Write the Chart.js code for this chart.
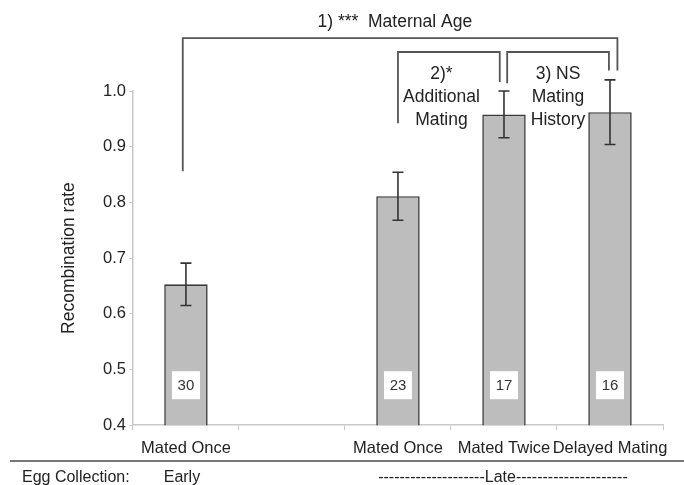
<!DOCTYPE html>
<html>
<head>
<meta charset="utf-8">
<script src="https://cdn.jsdelivr.net/npm/chart.js@4.4.1/dist/chart.umd.min.js"></script>
<style>
    html, body { margin: 0; padding: 0; background: #fff; }
    #wrap { width: 684px; height: 485px; position: relative; }
</style>
</head>
<body>
<div id="wrap"><canvas id="recombChart"></canvas></div>
<script>
// Categories (second slot is an empty gap between early and late groups)
const categories = ['Mated Once', '', 'Mated Once', 'Mated Twice', 'Delayed Mating'];
const recombRates = [0.653, null, 0.811, 0.958, 0.962];
const recombErrors = [0.038, null, 0.043, 0.042, 0.058];
const sampleSizes = [30, null, 23, 17, 16];
const yTicks = [0.4, 0.5, 0.6, 0.7, 0.8, 0.9, 1.0];

// Comparison brackets: category index span and y values of the bracket ends
const brackets = [
    { from: -0.03, to: 4.07, top: 1.095, leftEnd: 0.856, rightEnd: 1.037 },
    { from: 2.0, to: 2.96, top: 1.07, leftEnd: 0.942, rightEnd: 1.016 },
    { from: 3.03, to: 3.99, top: 1.07, leftEnd: 1.014, rightEnd: 1.037 }
];
const bracketLabels = [
    { at: 1.97, value: 1.1235, lines: ['1) ***  Maternal Age'] },
    { at: 2.41, value: 1.030, lines: ['2)*', 'Additional', 'Mating'] },
    { at: 3.51, value: 1.030, lines: ['3) NS', 'Mating', 'History'] }
];

const FONT = '"Liberation Sans", Arial, sans-serif';
Chart.defaults.font.family = FONT;
Chart.defaults.color = '#222';

const annotationPlugin = {
    id: 'annotations',
    afterDatasetsDraw(chart) {
        const ctx = chart.ctx;
        const x = chart.scales.x;
        const y = chart.scales.y;
        const meta = chart.getDatasetMeta(0);

        ctx.save();
        // Error bars
        ctx.strokeStyle = '#333';
        ctx.lineWidth = 1.6;
        recombRates.forEach((v, i) => {
            if (v === null) return;
            const cx = x.getPixelForValue(i);
            const yHi = y.getPixelForValue(v + recombErrors[i]);
            const yLo = y.getPixelForValue(v - recombErrors[i]);
            ctx.beginPath();
            ctx.moveTo(cx, yHi); ctx.lineTo(cx, yLo);
            ctx.moveTo(cx - 5.5, yHi); ctx.lineTo(cx + 5.5, yHi);
            ctx.moveTo(cx - 5.5, yLo); ctx.lineTo(cx + 5.5, yLo);
            ctx.stroke();
        });

        // Sample size boxes
        ctx.font = '15px ' + FONT;
        ctx.textAlign = 'center';
        ctx.textBaseline = 'middle';
        sampleSizes.forEach((n, i) => {
            if (n === null) return;
            const bar = meta.data[i];
            const cy = y.bottom - 40;
            ctx.fillStyle = '#fff';
            ctx.fillRect(bar.x - 14, cy - 14, 28, 28);
            ctx.fillStyle = '#333';
            ctx.fillText(String(n), bar.x, cy + 1);
        });

        // Brackets
        ctx.strokeStyle = '#555';
        ctx.lineWidth = 1.8;
        brackets.forEach(b => {
            const x1 = x.getPixelForValue(b.from);
            const x2 = x.getPixelForValue(b.to);
            const yt = y.getPixelForValue(b.top);
            ctx.beginPath();
            ctx.moveTo(x1, y.getPixelForValue(b.leftEnd));
            ctx.lineTo(x1, yt);
            ctx.lineTo(x2, yt);
            ctx.lineTo(x2, y.getPixelForValue(b.rightEnd));
            ctx.stroke();
        });

        // Bracket labels
        ctx.fillStyle = '#222';
        ctx.font = '17.5px ' + FONT;
        bracketLabels.forEach(l => {
            const cx = x.getPixelForValue(l.at);
            const y0 = y.getPixelForValue(l.value);
            l.lines.forEach((t, k) => ctx.fillText(t, cx, y0 + k * 23));
        });
        ctx.restore();
    },
    afterDraw(chart) {
        const ctx = chart.ctx;
        const x = chart.scales.x;
        ctx.save();
        ctx.strokeStyle = '#777';
        ctx.lineWidth = 2;
        ctx.beginPath();
        ctx.moveTo(10, 461);
        ctx.lineTo(chart.width, 461);
        ctx.stroke();

        ctx.fillStyle = '#222';
        ctx.font = '16px ' + FONT;
        ctx.textBaseline = 'middle';
        ctx.textAlign = 'left';
        ctx.fillText('Egg Collection:', 22, 478);
        ctx.textAlign = 'center';
        ctx.fillText('Early', x.getPixelForValue(0) - 4, 478);
        ctx.fillText('--------------------Late---------------------', x.getPixelForValue(3) - 1, 478);
        ctx.restore();
    }
};

const chartCtx = document.getElementById('recombChart').getContext('2d');
const recombChart = new Chart(chartCtx, {
    type: 'bar',
    data: {
        labels: categories,
        datasets: [{
            label: 'Recombination rate',
            data: recombRates,
            backgroundColor: '#bdbdbd',
            borderColor: '#3a3a3a',
            borderWidth: 1.6,
            barPercentage: 0.41,
            categoryPercentage: 1.0
        }]
    },
    options: {
        responsive: true,
        maintainAspectRatio: false,
        animation: false,
        layout: {
            padding: { top: 91, left: 59, right: 21, bottom: 19 }
        },
        plugins: {
            legend: { display: false },
            tooltip: { enabled: false }
        },
        scales: {
            x: {
                grid: {
                    display: true,
                    drawOnChartArea: false,
                    tickLength: 5,
                    color: '#c8c8c8'
                },
                border: { color: '#c8c8c8', width: 1.5 },
                ticks: {
                    padding: 8,
                    maxRotation: 0,
                    autoSkip: false,
                    color: '#222',
                    font: { size: 16.5 }
                }
            },
            y: {
                min: 0.4,
                max: 1.0,
                afterBuildTicks: axis => {
                    axis.ticks = yTicks.map(v => ({ value: v }));
                },
                grid: {
                    display: true,
                    drawOnChartArea: false,
                    tickLength: 4,
                    color: '#d0d0d0'
                },
                border: { color: '#c8c8c8', width: 1.5 },
                ticks: {
                    padding: 3,
                    color: '#222',
                    font: { size: 16.5 },
                    callback: value => value.toFixed(1)
                },
                title: {
                    display: true,
                    text: 'Recombination rate',
                    color: '#222',
                    font: { size: 17.5 },
                    padding: { top: 0, bottom: 20 }
                }
            }
        }
    },
    plugins: [annotationPlugin]
});
</script>
</body>
</html>
